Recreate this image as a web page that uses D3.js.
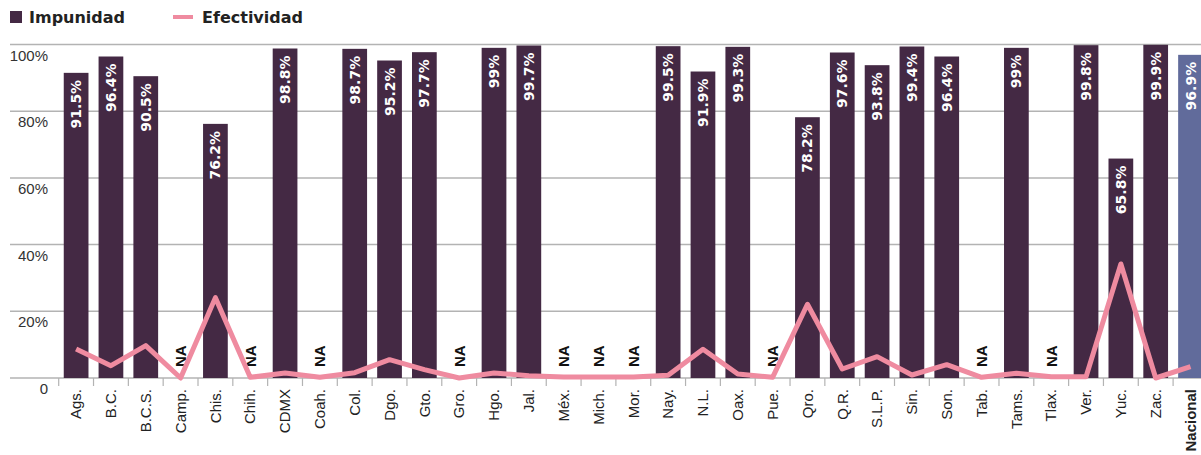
<!DOCTYPE html>
<html>
<head>
<meta charset="utf-8">
<script src="https://cdn.jsdelivr.net/npm/d3@7"></script>
<style>
  body { margin: 0; background: #fff; overflow: hidden; }
  svg { display: block; }
</style>
</head>
<body>
<div id="chart"></div>
<script>
const width = 1201;
const height = 455;

const estados = ['Ags.', 'B.C.', 'B.C.S.', 'Camp.', 'Chis.', 'Chih.', 'CDMX', 'Coah.', 'Col.', 'Dgo.',
  'Gto.', 'Gro.', 'Hgo.', 'Jal.', 'Méx.', 'Mich.', 'Mor.', 'Nay.', 'N.L.', 'Oax.', 'Pue.',
  'Qro.', 'Q.R.', 'S.L.P.', 'Sin.', 'Son.', 'Tab.', 'Tams.', 'Tlax.', 'Ver.', 'Yuc.', 'Zac.', 'Nacional'];

// null = NA
const impunidad = [91.5, 96.4, 90.5, null, 76.2, null, 98.8, null, 98.7, 95.2,
  97.7, null, 99, 99.7, null, null, null, 99.5, 91.9, 99.3, null,
  78.2, 97.6, 93.8, 99.4, 96.4, null, 99, null, 99.8, 65.8, 99.9, 96.9];

const efectividad = [8.7, 3.7, 9.7, 0, 24.1, 0.2, 1.5, 0.2, 1.6, 5.5,
  2.5, 0, 1.5, 0.7, 0.3, 0.3, 0.3, 0.8, 8.6, 1.2, 0.2,
  22.1, 2.7, 6.4, 0.9, 4.0, 0.2, 1.4, 0.4, 0.4, 34.2, 0, 3.4];

const yTicks = [0, 20, 40, 60, 80, 100];

const data = estados.map((d, i) => ({ estado: d, imp: impunidad[i], ef: efectividad[i] }));

const svg = d3.select('#chart').append('svg')
  .attr('width', width)
  .attr('height', height);

const x = d3.scaleBand()
  .domain(estados)
  .range([58.7, 58.7 + 34.825 * estados.length])
  .paddingInner(0.29)
  .paddingOuter(0.145);

const y = d3.scaleLinear()
  .domain([0, 100])
  .range([378, 44.5]);

// Gridlines
svg.append('g')
  .selectAll('line')
  .data(yTicks)
  .join('line')
    .attr('x1', 10)
    .attr('x2', width)
    .attr('y1', d => y(d))
    .attr('y2', d => y(d))
    .attr('stroke', '#b3b3b3')
    .attr('stroke-width', 1.5);

svg.append('g')
  .selectAll('text')
  .data(yTicks)
  .join('text')
    .attr('x', 48)
    .attr('y', d => y(d) + 16)
    .attr('text-anchor', 'end')
    .attr('font-family', '"Liberation Sans", Arial, sans-serif')
    .attr('font-size', 15)
    .attr('fill', '#333')
    .text(d => d === 0 ? '0' : d + '%');

// X axis ticks at band edges
const edges = estados.map(d => x(d) - x.step() * x.paddingInner() / 2);
svg.append('g')
  .selectAll('line')
  .data(edges)
  .join('line')
    .attr('x1', d => d)
    .attr('x2', d => d)
    .attr('y1', y(0))
    .attr('y2', y(0) + 8)
    .attr('stroke', '#b3b3b3')
    .attr('stroke-width', 1.2);

svg.append('g')
  .selectAll('text')
  .data(estados)
  .join('text')
    .attr('transform', d => `translate(${x(d) + x.bandwidth() / 2},389) rotate(-90)`)
    .attr('dy', '0.35em')
    .attr('text-anchor', 'end')
    .attr('font-family', '"Liberation Sans", Arial, sans-serif')
    .attr('font-size', 15)
    .attr('font-weight', d => d === 'Nacional' ? 'bold' : 'normal')
    .attr('fill', '#222')
    .text(d => d);

// Bars
const withValue = data.filter(d => d.imp !== null);

svg.append('g')
  .selectAll('rect')
  .data(withValue)
  .join('rect')
    .attr('x', d => x(d.estado))
    .attr('y', d => y(d.imp))
    .attr('width', x.bandwidth())
    .attr('height', d => y(0) - y(d.imp))
    .attr('fill', d => d.estado === 'Nacional' ? '#616b9b' : '#442944');

svg.append('g')
  .selectAll('text')
  .data(withValue)
  .join('text')
    .attr('transform', d => `translate(${x(d.estado) + x.bandwidth() / 2},${y(d.imp) + 7}) rotate(-90)`)
    .attr('dy', '0.36em')
    .attr('text-anchor', 'end')
    .attr('font-family', '"DejaVu Sans", sans-serif')
    .attr('font-weight', 'bold')
    .attr('font-size', 14)
    .attr('fill', '#fff')
    .text(d => d.imp + '%');

// NA labels
svg.append('g')
  .selectAll('text')
  .data(data.filter(d => d.imp === null))
  .join('text')
    .attr('transform', d => `translate(${x(d.estado) + x.bandwidth() / 2},367) rotate(-90)`)
    .attr('dy', '0.36em')
    .attr('text-anchor', 'start')
    .attr('font-family', '"Liberation Sans", Arial, sans-serif')
    .attr('font-weight', 'bold')
    .attr('font-size', 15)
    .attr('fill', '#111')
    .text('NA');

// Efectividad line
const line = d3.line()
  .x(d => x(d.estado) + x.bandwidth() / 2)
  .y(d => y(d.ef));

svg.append('path')
  .datum(data)
  .attr('d', line)
  .attr('fill', 'none')
  .attr('stroke', '#ef8ba0')
  .attr('stroke-width', 5)
  .attr('stroke-linejoin', 'round');

// Legend
const legend = svg.append('g')
  .attr('font-family', '"DejaVu Sans", sans-serif')
  .attr('font-weight', 'bold')
  .attr('font-size', 16)
  .attr('fill', '#222');

legend.append('rect')
  .attr('x', 10).attr('y', 11)
  .attr('width', 12).attr('height', 12)
  .attr('fill', '#442944');

legend.append('text')
  .attr('x', 29).attr('y', 23)
  .text('Impunidad');

legend.append('line')
  .attr('x1', 173).attr('x2', 193)
  .attr('y1', 17).attr('y2', 17)
  .attr('stroke', '#ef8ba0')
  .attr('stroke-width', 4);

legend.append('text')
  .attr('x', 202).attr('y', 23)
  .text('Efectividad');
</script>
</body>
</html>
